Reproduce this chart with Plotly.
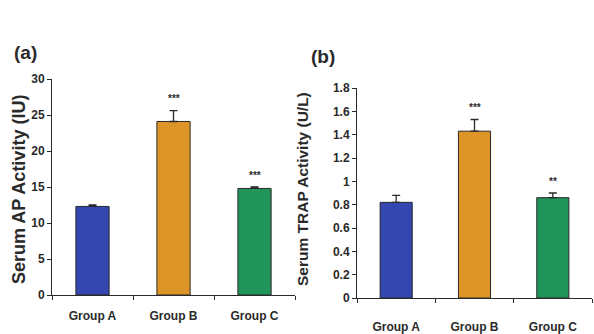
import plotly.graph_objects as go

groups = ["Group A", "Group B", "Group C"]
colors = ["#3446b0", "#dd9528", "#21945a"]

# (a) Serum AP activity
ap_mean = [12.3, 24.1, 14.8]
ap_err = [0.2, 1.5, 0.2]
ap_sig = ["", "***", "***"]

# (b) Serum TRAP activity
trap_mean = [0.82, 1.43, 0.86]
trap_err = [0.06, 0.10, 0.04]
trap_sig = ["", "***", "**"]

FONT = "Liberation Sans Narrow, Arial Narrow, Liberation Sans, Arial, sans-serif"
INK = "#2a2a2a"
W, H = 594, 334

fig = go.Figure()


def add_panel(means, errs, xa, ya):
    fig.add_trace(go.Bar(
        x=groups, y=means, xaxis=xa, yaxis=ya, width=0.41,
        marker=dict(color=colors, line=dict(color=INK, width=1)),
        error_y=dict(type="data", symmetric=False, array=errs,
                     arrayminus=[0] * len(errs), color=INK,
                     thickness=1.3, width=4),
        showlegend=False,
    ))


add_panel(ap_mean, ap_err, "x", "y")
add_panel(trap_mean, trap_err, "x2", "y2")

# significance marks above the error bars
for xa, ya, means, errs, sigs in [("x", "y", ap_mean, ap_err, ap_sig),
                                  ("x2", "y2", trap_mean, trap_err, trap_sig)]:
    for g, m, e, s in zip(groups, means, errs, sigs):
        if s:
            fig.add_annotation(x=g, y=m + e, xref=xa, yref=ya, text=s,
                               showarrow=False, yanchor="middle", yshift=12,
                               font=dict(family=FONT, size=10, color=INK,
                                         weight="bold"))

axis_common = dict(showline=True, linecolor=INK, linewidth=1, showgrid=False,
                   zeroline=False, ticks="outside", ticklen=4, tickcolor=INK,
                   automargin=False,
                   tickfont=dict(family=FONT, size=12, color=INK, weight="bold"))

fig.update_layout(
    width=W, height=H,
    margin=dict(l=0, r=0, t=0, b=0),
    paper_bgcolor="white", plot_bgcolor="white",
    xaxis=dict(domain=[52 / W, 295 / W], anchor="y", tickson="boundaries",
               ticklabelstandoff=10, range=[-0.5, 2.5], **axis_common),
    yaxis=dict(domain=[1 - 295 / H, 1 - 79 / H], anchor="x", range=[0, 30],
               tickvals=[0, 5, 10, 15, 20, 25, 30], **axis_common),
    xaxis2=dict(domain=[357 / W, 592 / W], anchor="y2", tickson="boundaries",
                ticklabelstandoff=18, range=[-0.5, 2.5], **axis_common),
    yaxis2=dict(domain=[1 - 298 / H, 1 - 88 / H], anchor="x2", range=[0, 1.8],
                tickvals=[0, 0.2, 0.4, 0.6, 0.8, 1, 1.2, 1.4, 1.6, 1.8],
                ticktext=["0", "0.2", "0.4", "0.6", "0.8", "1", "1.2", "1.4", "1.6", "1.8"],
                **axis_common),
)

# y-axis titles placed as rotated paper annotations
fig.add_annotation(x=19 / W, y=1 - 190 / H, xref="paper", yref="paper",
                   xanchor="center", yanchor="middle",
                   text="Serum AP Activity (IU)", textangle=-90, showarrow=False,
                   font=dict(family=FONT, size=18, color=INK, weight="bold"))
fig.add_annotation(x=302 / W, y=1 - 189 / H, xref="paper", yref="paper",
                   xanchor="center", yanchor="middle",
                   text="Serum TRAP Activity (U/L)", textangle=-90, showarrow=False,
                   font=dict(family=FONT, size=15.5, color=INK, weight="bold"))

# panel letters
fig.add_annotation(x=25 / W, y=1 - 53 / H, xref="paper", yref="paper",
                   xanchor="center", yanchor="middle",
                   text="(a)", showarrow=False,
                   font=dict(family=FONT, size=19, color=INK, weight="bold"))
fig.add_annotation(x=323 / W, y=1 - 57 / H, xref="paper", yref="paper",
                   xanchor="center", yanchor="middle",
                   text="(b)", showarrow=False,
                   font=dict(family=FONT, size=19, color=INK, weight="bold"))

fig.write_html("out.html")
